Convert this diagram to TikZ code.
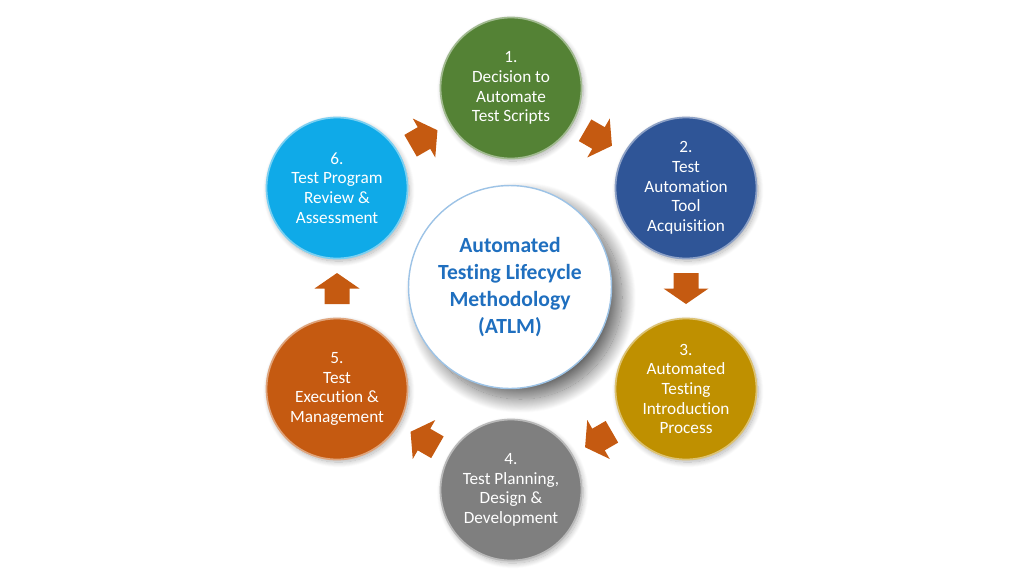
\documentclass[tikz,border=0pt]{standalone}
\usepackage{fontspec}
\setmainfont{Carlito}[Ligatures=NoCommon]
\usetikzlibrary{calc,shadows.blur}

\definecolor{decidegreen}{HTML}{548235}
\definecolor{toolblue}{HTML}{2F5597}
\definecolor{introgold}{HTML}{BF9000}
\definecolor{plangray}{HTML}{7F7F7F}
\definecolor{execorange}{HTML}{C55A11}
\definecolor{reviewcyan}{HTML}{0FAAE8}
\definecolor{arrowfill}{HTML}{C55A11}
\definecolor{hubline}{HTML}{9DC3E6}
\definecolor{hubtext}{HTML}{1F6FBF}

\tikzset{
  stage/.style={circle, minimum size=2.82cm, inner sep=0pt, text=white, align=center,
    font=\fontsize{9.8}{11.2}\selectfont, line width=1pt,
    blur shadow={shadow xshift=1pt, shadow yshift=-1.5pt, shadow blur radius=3pt, shadow blur steps=12, shadow opacity=30}},
  hub/.style={circle, minimum size=4.06cm, inner sep=0pt, fill=white, draw=hubline, line width=0.8pt,
    text=hubtext, align=center, font=\fontsize{12.3}{15.2}\selectfont\bfseries,
    blur shadow={shadow xshift=6pt, shadow yshift=-6pt, shadow blur radius=8pt, shadow blur steps=30, shadow opacity=60}},
  blockarrow/.pic={
    \fill[arrowfill] (-15.5,-12.5) -- (0,-12.5) -- (0,-22.5) -- (15.5,0) -- (0,22.5) -- (0,12.5) -- (-15.5,12.5) -- cycle;
  }
}

\begin{document}
\begin{tikzpicture}[x=0.02cm, y=0.02cm]
  \useasboundingbox (0,0) rectangle (1024,-576);

  \node[hub] (hub) at (510,-287) {Automated\\Testing Lifecycle\\Methodology\\(ATLM)};

  \node[stage, fill=decidegreen, draw=decidegreen!55!white] (s1) at (511,-88) {1.\\Decision to\\Automate\\Test Scripts};
  \node[stage, fill=toolblue, draw=toolblue!55!white] (s2) at (686,-188) {2.\\Test\\Automation\\Tool\\Acquisition};
  \node[stage, fill=introgold, draw=introgold!55!white] (s3) at (686,-389) {3.\\Automated\\Testing\\Introduction\\Process};
  \node[stage, fill=plangray, draw=plangray!55!white] (s4) at (511,-490) {4.\\Test Planning,\\Design \&\\Development};
  \node[stage, fill=execorange, draw=execorange!55!white] (s5) at (337,-389) {5.\\Test\\Execution \&\\Management};
  \node[stage, fill=reviewcyan, draw=reviewcyan!55!white] (s6) at (337,-188) {6.\\Test Program\\Review \&\\Assessment};

  % arrows between the stages
  \pic[rotate=-30] at ($(s1)!0.5!(s2)$) {blockarrow};
  \pic[rotate=-90] at ($(s2)!0.5!(s3)$) {blockarrow};
  \pic[rotate=-150] at ($(s3)!0.5!(s4)$) {blockarrow};
  \pic[rotate=150] at ($(s4)!0.5!(s5)$) {blockarrow};
  \pic[rotate=90] at ($(s5)!0.5!(s6)$) {blockarrow};
  \pic[rotate=30] at ($(s6)!0.5!(s1)$) {blockarrow};
\end{tikzpicture}
\end{document}
